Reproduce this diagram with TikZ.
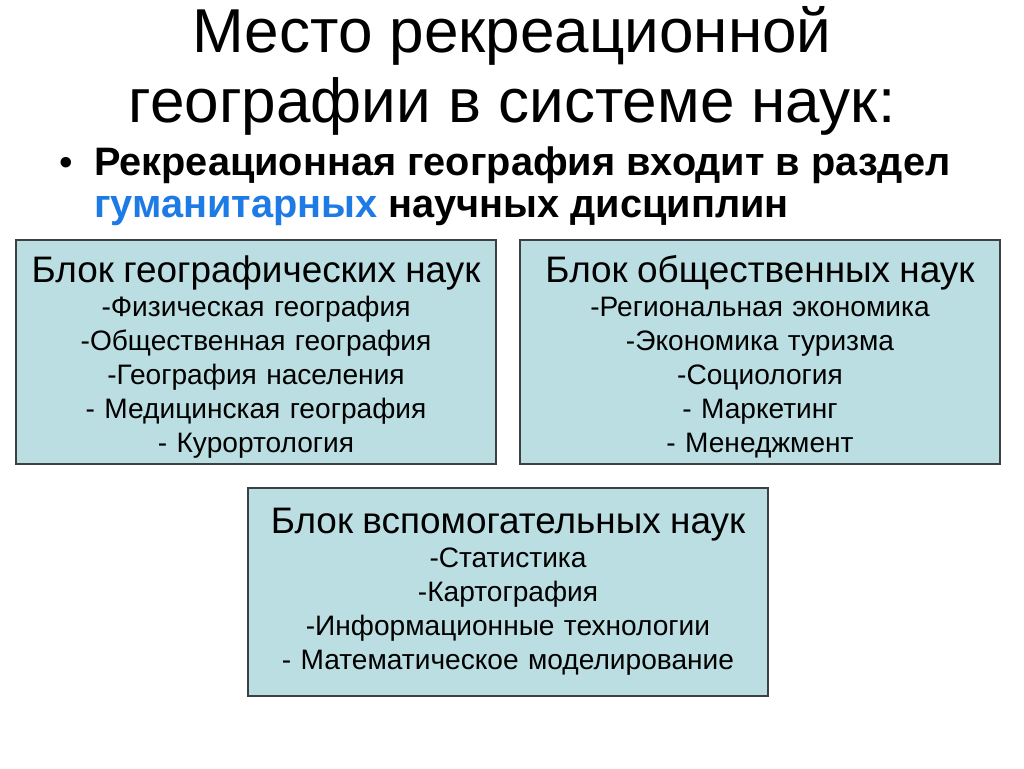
\documentclass[tikz,border=0pt]{standalone}
\usepackage{fontspec}
\setmainfont{Liberation Sans}
\usepackage{tikz}
\usetikzlibrary{positioning}
\definecolor{boxFill}{RGB}{187,222,226}
\definecolor{boxLine}{RGB}{60,64,66}
\definecolor{humBlue}{RGB}{30,122,228}

\begin{document}
\begin{tikzpicture}[x=0.02cm, y=-0.02cm]%
  \tikzset{block/.style={draw=boxLine, fill=boxFill, line width=0.8pt, align=center,
      inner sep=0pt, font=\fontsize{16}{19.3}\selectfont}}
  \tikzstyle{every node}=[text=black]

  \useasboundingbox (0,0) rectangle (1024,768);
  \fill[white] (0,0) rectangle (1024,768);

  % title
  \node[align=center, font=\fontsize{35.3}{39.7}\selectfont, anchor=base] (title) at (512,122)
    {Место рекреационной\\географии в системе наук:};

  % bullet
  \node[anchor=base, font=\fontsize{22}{24}\selectfont] (dot) at (66,175) {\textbullet};
  \node[anchor=base west, align=left, font=\bfseries\fontsize{22.6}{23.8}\selectfont] (lead) at (88,217)
    {Рекреационная география входит в раздел\\\textcolor{humBlue}{гуманитарных} научных дисциплин};

  % blocks
  \node[block, text width=9.4cm, minimum width=9.6cm, minimum height=4.48cm] (geo) at (256,352)
    {{\fontsize{21}{19.3}\selectfont\rule{0pt}{21pt}Блок географических наук}\\
     -Физическая география\\
     -Общественная география\\
     -География населения\\
     - Медицинская география\\
     - Курортология};
  \node[block, text width=9.4cm, minimum width=9.6cm, minimum height=4.48cm] (soc) at (760,352)
    {{\fontsize{21}{19.3}\selectfont\rule{0pt}{21pt}Блок общественных наук}\\
     -Региональная экономика\\
     -Экономика туризма\\
     -Социология\\
     - Маркетинг\\
     - Менеджмент};
  \node[block, text width=10.2cm, minimum width=10.4cm, minimum height=4.16cm] (aux) at (508,592)
    {{\fontsize{21}{19.3}\selectfont Блок вспомогательных наук}\\
     -Статистика\\
     -Картография\\
     -Информационные технологии\\
     - Математическое моделирование};
\end{tikzpicture}
\end{document}
